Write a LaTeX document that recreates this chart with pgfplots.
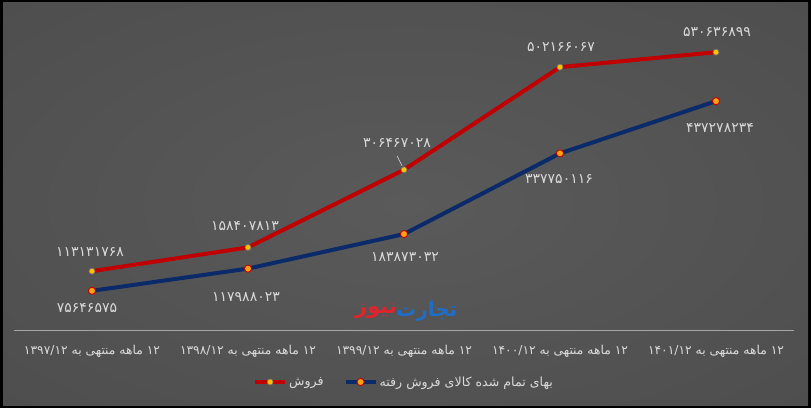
\documentclass[border=0pt]{standalone}
\usepackage{pgfplots}
\pgfplotsset{compat=1.18}
\usepackage{pgfplotstable}
\usepackage{fontspec}
\setmainfont{DejaVu Sans}
\newfontfamily\arabicfont[Script=Arabic]{DejaVu Sans}
\newfontfamily\arabicbold[Script=Arabic]{DejaVu Sans Bold}
\TeXXeTstate=1

\definecolor{bgin}{HTML}{5A5A5A}
\definecolor{bgout}{HTML}{2A2A2A}
\definecolor{salesred}{HTML}{C00000}
\definecolor{costblue}{HTML}{0B2A6A}
\definecolor{mkyellow}{HTML}{FFC000}
\definecolor{mkorange}{HTML}{FFA010}
\definecolor{lbl}{HTML}{DADADA}
\definecolor{axisgray}{HTML}{A6A6A6}
\definecolor{wmblue}{HTML}{1E6EC8}
\definecolor{wmred}{HTML}{E3232C}

\pgfdeclareradialshading{bgshade}{\pgfpoint{0bp}{0bp}}{color(0bp)=(bgin); color(100bp)=(bgout)}

% x, value, label offset (dx, dy in pt), label
\pgfplotstableread{
x y dx dy lbl
0 113131768 -2 19 ۱۱۳۱۳۱۷۶۸
1 158407813 -3 21 ۱۵۸۴۰۷۸۱۳
2 306467028 -7 27 ۳۰۶۴۶۷۰۲۸
3 502166067 1 20 ۵۰۲۱۶۶۰۶۷
4 530636899 1 20 ۵۳۰۶۳۶۸۹۹
}\salestable

\pgfplotstableread{
x y dx dy lbl
0 75646575 -5 -17 ۷۵۶۴۶۵۷۵
1 117988023 -2 -28 ۱۱۷۹۸۸۰۲۳
2 183873032 1 -23 ۱۸۳۸۷۳۰۳۲
3 337750116 -1 -26 ۳۳۷۷۵۰۱۱۶
4 437278234 4 -27 ۴۳۷۲۷۸۲۳۴
}\costtable

\begin{document}
\begin{tikzpicture}
\useasboundingbox (0pt,0pt) rectangle (811pt,408pt);
\fill[black] (0pt,0pt) rectangle (811pt,408pt);
\begin{scope}
  \clip (3pt,3pt) rectangle (808pt,405pt);
  \shade[shading=bgshade] (-166pt,-81pt) rectangle (977pt,489pt);
\end{scope}

\begin{axis}[
    at={(14pt,77.5pt)}, anchor=south west,
    scale only axis, width=780pt, height=314.7pt,
    xmin=-0.5, xmax=4.5,
    ymin=0, ymax=600000000,
    axis x line*=bottom, axis y line=none,
    x axis line style={draw=axisgray, line width=1.2pt},
    xtick={0,1,2,3,4}, ytick=\empty,
    major tick length=0pt,
    xticklabels={
      \beginR ۱۲ ماهه منتهی به ۱۳۹۷/۱۲\endR,
      \beginR ۱۲ ماهه منتهی به ۱۳۹۸/۱۲\endR,
      \beginR ۱۲ ماهه منتهی به ۱۳۹۹/۱۲\endR,
      \beginR ۱۲ ماهه منتهی به ۱۴۰۰/۱۲\endR,
      \beginR ۱۲ ماهه منتهی به ۱۴۰۱/۱۲\endR},
    xticklabel style={font=\arabicfont\fontsize{12.3}{14}\selectfont, text=lbl,
      anchor=center, yshift=-21pt},
    clip=false,
    point meta=explicit symbolic,
    visualization depends on={\thisrow{dx} \as \ldx},
    visualization depends on={\thisrow{dy} \as \ldy},
    nodes near coords={\pgfplotspointmeta},
    every node near coord/.append style={anchor=center, xshift=\ldx*1pt, yshift=\ldy*1pt,
      font=\arabicfont\fontsize{14}{16}\selectfont, text=lbl},
    legend columns=2,
    legend style={at={(0.5,0)}, anchor=center, yshift=-51.5pt,
      draw=none, fill=none, text=lbl,
      font=\arabicfont\fontsize{12.6}{15}\selectfont,
      /tikz/every even column/.append style={column sep=18pt}},
    legend image code/.code={
      \draw[mark repeat=2, mark phase=2, #1] plot coordinates {(0pt,0pt) (15pt,0pt) (30pt,0pt)};},
]

\addplot[salesred, line width=4pt, line join=round,
    mark=*, mark size=3pt,
    mark options={solid, line width=0.7pt, fill=mkyellow, draw=black!55}]
    table[x=x, y=y, meta=lbl] {\salestable};
\addlegendentry{\beginR فروش\endR}

\addplot[costblue, line width=4pt, line join=round,
    mark=*, mark size=3.6pt,
    mark options={solid, line width=0.9pt, fill=mkorange, draw=salesred}]
    table[x=x, y=y, meta=lbl] {\costtable};
\addlegendentry{\beginR بهای تمام شده کالای فروش رفته\endR}

% leader line of the middle sales label
\draw[lbl, line width=0.5pt] (axis cs:2,306467028) ++(-2pt,4pt) -- ++(-5pt,10pt);

% watermark: two words, blue on the right, red on the left
\node[anchor=west, inner sep=0pt, xshift=-8pt, text=wmblue,
      font=\arabicbold\fontsize{20}{24}\selectfont] at (axis cs:2,37000000) {تجارت};
\node[anchor=east, inner sep=0pt, xshift=-7pt, text=wmred,
      font=\arabicbold\fontsize{21}{24}\selectfont] at (axis cs:2,37000000) {نیوز};
\end{axis}
\end{tikzpicture}
\end{document}
